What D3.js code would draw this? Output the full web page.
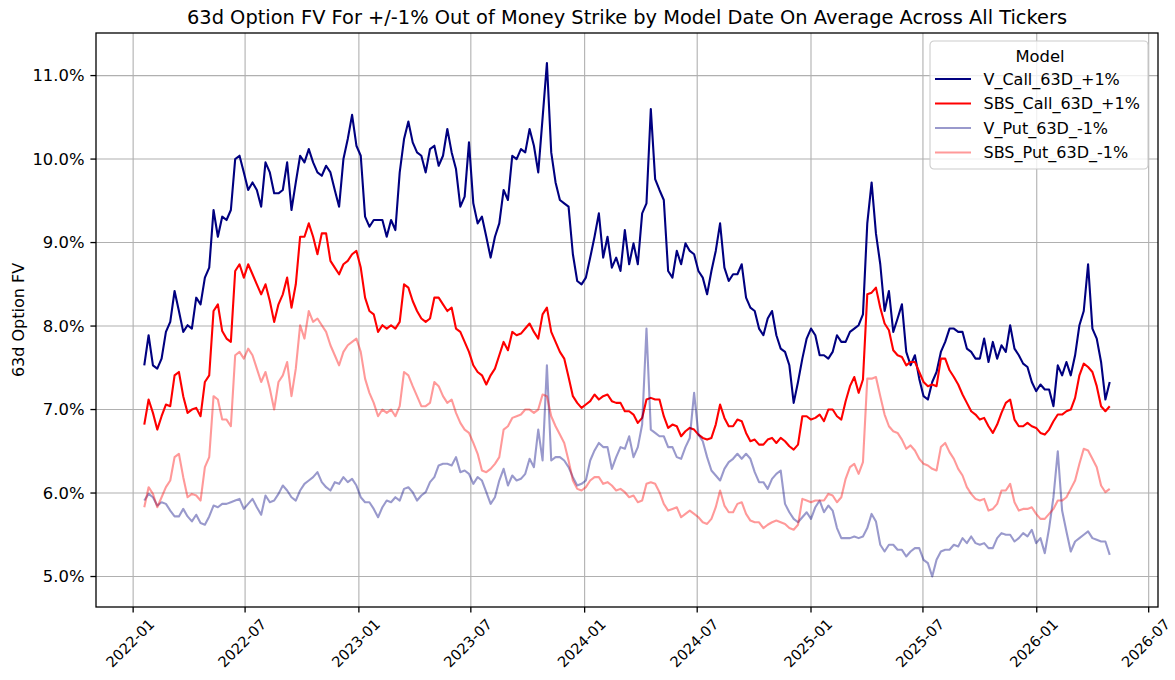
<!DOCTYPE html>
<html>
<head>
<meta charset="utf-8">
<script src="https://cdn.jsdelivr.net/npm/d3@7"></script>
<style>
  body { margin: 0; background: #fff; }
  text { font-family: "DejaVu Sans", sans-serif; }
</style>
</head>
<body>
<div id="chart"></div>
<script>
// weekly model dates, first one 2022-01-19
const startDate = new Date(2022, 0, 19);
const stepDays = 7;

const vCall = [
  7.53,7.89,7.53,7.49,7.61,7.93,8.05,8.42,8.18,7.93,8.01,7.97,8.34,8.26,8.58,8.70,9.39,9.07,9.31,9.27,9.39,10.0,10.04,9.84,9.63,9.72,9.63,9.43,9.96,9.84,9.59,9.59,9.63,9.96,9.39,9.72,10.04,9.96,10.12,
  9.96,9.84,9.80,9.92,9.84,9.63,9.43,10.0,10.24,10.53,10.16,10.04,9.31,9.19,9.27,9.27,9.27,9.07,9.27,9.15,9.84,10.24,10.45,10.20,10.08,10.04,9.84,10.12,10.16,9.92,10.04,10.36,10.08,9.88,9.43,9.55,10.20,9.47,9.23,
  9.31,9.07,8.82,9.07,9.23,9.63,9.51,10.04,10.0,10.12,10.08,10.36,10.16,9.84,10.49,11.15,10.08,9.72,9.51,9.47,9.43,8.86,8.54,8.50,8.58,8.82,9.07,9.35,8.82,9.07,8.70,8.82,8.66,9.15,8.74,8.99,8.74,9.35,9.47,
  10.6,9.76,9.63,9.51,8.66,8.58,8.90,8.74,8.99,8.90,8.86,8.66,8.58,8.38,8.66,8.90,9.23,8.70,8.54,8.62,8.62,8.74,8.34,8.22,8.18,7.97,7.89,8.09,8.18,7.89,7.73,7.69,7.53,7.08,7.33,7.61,7.85,7.97,7.89,
  7.65,7.65,7.61,7.69,7.89,7.81,7.81,7.93,7.97,8.01,8.14,9.23,9.72,9.11,8.74,8.18,8.42,7.93,8.09,8.26,7.69,7.53,7.65,7.37,7.16,7.12,7.33,7.45,7.69,7.81,7.97,7.97,7.93,7.93,7.73,7.69,7.61,7.61,7.85,
  7.57,7.81,7.61,7.77,7.69,8.01,7.73,7.65,7.55,7.51,7.33,7.22,7.30,7.24,7.24,7.04,7.53,7.41,7.57,7.41,7.65,8.01,8.18,8.74,7.97,7.85,7.57,7.12,7.33
];

const sbsCall = [
  6.82,7.12,6.96,6.76,6.92,7.06,7.04,7.41,7.45,7.16,6.96,7.00,7.02,6.92,7.33,7.41,8.18,8.26,7.94,7.85,7.81,8.66,8.74,8.58,8.74,8.62,8.50,8.38,8.50,8.30,8.05,8.26,8.38,8.58,8.22,8.50,9.07,9.07,9.23,
  9.07,8.86,9.11,9.11,8.78,8.70,8.62,8.74,8.78,8.86,8.90,8.70,8.34,8.18,8.14,7.93,8.01,7.97,8.01,7.97,8.05,8.50,8.46,8.30,8.18,8.09,8.05,8.09,8.34,8.34,8.26,8.18,8.22,7.97,7.93,7.81,7.69,7.53,7.45,
  7.41,7.30,7.41,7.49,7.65,7.81,7.71,7.93,7.89,7.91,7.97,8.03,7.93,7.85,8.14,8.22,7.93,7.81,7.69,7.61,7.39,7.16,7.08,7.02,7.06,7.10,7.18,7.12,7.16,7.18,7.10,7.08,7.08,6.98,6.98,6.94,6.84,6.90,7.12,
  7.14,7.12,7.12,6.92,6.78,6.82,6.80,6.68,6.74,6.78,6.76,6.70,6.66,6.64,6.66,6.82,7.06,6.90,6.80,6.80,6.88,6.86,6.72,6.62,6.64,6.58,6.58,6.64,6.66,6.60,6.66,6.62,6.56,6.52,6.58,6.92,6.92,6.88,6.90,
  6.94,6.86,7.00,7.00,6.92,6.88,7.10,7.28,7.39,7.20,7.36,8.38,8.40,8.46,8.22,8.03,7.95,7.71,7.65,7.63,7.53,7.57,7.57,7.45,7.33,7.28,7.30,7.28,7.61,7.61,7.47,7.39,7.30,7.18,7.08,6.98,6.94,6.88,6.90,
  6.80,6.72,6.82,6.96,7.08,7.12,6.88,6.80,6.80,6.84,6.80,6.78,6.72,6.70,6.76,6.86,6.94,6.94,6.98,7.00,7.14,7.41,7.55,7.51,7.45,7.28,7.04,6.98,7.04
];

const vPut = [
  5.91,5.99,5.95,5.85,5.89,5.87,5.79,5.72,5.72,5.81,5.72,5.66,5.74,5.64,5.62,5.72,5.85,5.83,5.87,5.87,5.89,5.91,5.93,5.81,5.87,5.93,5.83,5.74,5.97,5.89,5.91,5.99,6.09,6.03,5.95,5.91,6.03,6.11,6.15,
  6.19,6.25,6.13,6.07,6.03,6.13,6.11,6.19,6.13,6.17,6.09,5.95,5.89,5.89,5.81,5.71,5.83,5.91,5.89,5.95,5.91,6.05,6.07,6.01,5.91,5.97,6.01,6.13,6.19,6.33,6.35,6.35,6.33,6.43,6.25,6.27,6.23,6.11,6.19,
  6.15,6.01,5.87,5.95,6.15,6.29,6.09,6.21,6.15,6.17,6.23,6.41,6.31,6.76,6.39,7.53,6.39,6.43,6.43,6.39,6.31,6.19,6.09,6.11,6.15,6.39,6.51,6.60,6.55,6.55,6.29,6.43,6.55,6.53,6.68,6.43,6.55,6.82,7.97,
  6.76,6.72,6.68,6.68,6.55,6.55,6.43,6.41,6.55,6.66,7.20,6.70,6.62,6.43,6.27,6.21,6.15,6.29,6.37,6.41,6.47,6.41,6.47,6.41,6.25,6.13,6.13,6.05,6.17,6.23,6.27,5.87,5.77,5.69,5.65,5.71,5.77,5.69,5.83,
  5.91,5.77,5.85,5.79,5.58,5.46,5.46,5.46,5.48,5.46,5.48,5.58,5.75,5.66,5.38,5.30,5.38,5.38,5.32,5.32,5.24,5.30,5.34,5.34,5.20,5.16,5.00,5.20,5.30,5.32,5.32,5.38,5.36,5.46,5.40,5.48,5.40,5.38,5.40,
  5.34,5.34,5.46,5.52,5.50,5.50,5.42,5.46,5.52,5.48,5.56,5.40,5.46,5.28,5.58,5.95,6.50,5.79,5.54,5.30,5.42,5.46,5.50,5.54,5.46,5.44,5.42,5.42,5.26
];

const sbsPut = [
  5.83,6.07,5.99,5.83,5.95,6.07,6.15,6.43,6.47,6.19,5.95,5.99,5.97,5.91,6.31,6.43,7.16,7.12,6.88,6.88,6.80,7.65,7.69,7.61,7.73,7.65,7.49,7.33,7.45,7.25,7.00,7.33,7.41,7.57,7.16,7.49,8.01,7.85,8.18,
  8.05,8.09,8.01,7.93,7.77,7.65,7.53,7.69,7.77,7.81,7.85,7.69,7.37,7.20,7.08,6.92,7.00,6.96,7.00,6.92,7.04,7.45,7.41,7.28,7.16,7.04,7.04,7.08,7.33,7.28,7.16,7.08,7.12,6.96,6.84,6.76,6.72,6.60,6.47,
  6.27,6.25,6.29,6.35,6.43,6.76,6.80,6.90,6.92,6.94,7.00,7.00,6.96,7.00,7.18,7.16,6.92,6.80,6.70,6.60,6.39,6.15,6.05,6.03,6.07,6.15,6.19,6.19,6.11,6.13,6.09,6.03,6.05,6.01,5.95,5.97,5.89,5.91,6.11,
  6.13,6.11,6.01,5.87,5.79,5.81,5.83,5.71,5.75,5.79,5.75,5.71,5.65,5.63,5.69,5.83,6.03,5.85,5.77,5.77,5.87,5.89,5.75,5.67,5.65,5.65,5.58,5.62,5.65,5.67,5.65,5.63,5.58,5.56,5.62,5.93,5.91,5.89,5.91,
  5.91,5.91,5.99,5.97,5.89,5.95,6.17,6.31,6.35,6.23,6.37,7.37,7.37,7.39,7.16,6.94,6.80,6.74,6.72,6.64,6.53,6.57,6.51,6.41,6.35,6.33,6.29,6.27,6.55,6.60,6.49,6.41,6.29,6.21,6.07,5.99,5.93,5.91,5.93,
  5.79,5.81,5.87,6.03,6.03,6.11,5.89,5.79,5.81,5.81,5.83,5.75,5.69,5.69,5.75,5.81,5.91,5.91,5.95,6.05,6.15,6.35,6.53,6.51,6.41,6.31,6.09,6.01,6.05
];

const seriesNames = ["V_Call_63D_+1%", "SBS_Call_63D_+1%", "V_Put_63D_-1%", "SBS_Put_63D_-1%"];
const yTicks = [5, 6, 7, 8, 9, 10, 11];

const series = [
  { name: seriesNames[0], values: vCall, color: "#000080", alpha: 1 },
  { name: seriesNames[1], values: sbsCall, color: "#ff0000", alpha: 1 },
  { name: seriesNames[2], values: vPut, color: "#000080", alpha: 0.4 },
  { name: seriesNames[3], values: sbsPut, color: "#ff0000", alpha: 0.4 },
];

const width = 1175, height = 680;
const margin = { top: 33, right: 17, bottom: 73, left: 96 };

const n = vCall.length;
const dates = d3.range(n).map(i => d3.timeDay.offset(startDate, i * stepDays));

// matplotlib style 5% padding on both axes
const xExt = d3.extent(dates);
const xPad = (xExt[1] - xExt[0]) * 0.05;
const x = d3.scaleTime()
  .domain([new Date(+xExt[0] - xPad), new Date(+xExt[1] + xPad)])
  .range([margin.left, width - margin.right]);

const y = d3.scaleLinear()
  .domain([4.635, 11.51])
  .range([height - margin.bottom, margin.top]);

const xTicks = d3.timeMonth.every(6).range(new Date(2022, 0, 1), new Date(2026, 7, 1));

const svg = d3.select("#chart").append("svg")
  .attr("width", width)
  .attr("height", height);

const plotW = width - margin.left - margin.right;
const plotH = height - margin.top - margin.bottom;

// grid
const grid = svg.append("g").attr("stroke", "#b0b0b0").attr("stroke-width", 1.1);
grid.selectAll(".gx").data(xTicks).enter().append("line")
  .attr("x1", d => x(d)).attr("x2", d => x(d))
  .attr("y1", margin.top).attr("y2", height - margin.bottom);
grid.selectAll(".gy").data(yTicks).enter().append("line")
  .attr("x1", margin.left).attr("x2", width - margin.right)
  .attr("y1", d => y(d)).attr("y2", d => y(d));

// lines
const line = d3.line()
  .x((d, i) => x(dates[i]))
  .y(d => y(d));

svg.append("defs").append("clipPath").attr("id", "clip")
  .append("rect").attr("x", margin.left).attr("y", margin.top)
  .attr("width", plotW).attr("height", plotH);

svg.append("g").attr("clip-path", "url(#clip)")
  .selectAll("path").data(series).enter().append("path")
  .attr("d", d => line(d.values))
  .attr("fill", "none")
  .attr("stroke", d => d.color)
  .attr("stroke-opacity", d => d.alpha)
  .attr("stroke-width", 2.1)
  .attr("stroke-linejoin", "round");

// axes frame
svg.append("rect")
  .attr("x", margin.left).attr("y", margin.top)
  .attr("width", plotW).attr("height", plotH)
  .attr("fill", "none").attr("stroke", "#000").attr("stroke-width", 1.3);

// y axis
const yAxis = svg.append("g");
yAxis.selectAll("line").data(yTicks).enter().append("line")
  .attr("x1", margin.left - 5.6).attr("x2", margin.left)
  .attr("y1", d => y(d)).attr("y2", d => y(d))
  .attr("stroke", "#000").attr("stroke-width", 1.3);
yAxis.selectAll("text").data(yTicks).enter().append("text")
  .attr("x", margin.left - 11.5)
  .attr("y", d => y(d))
  .attr("dy", "0.36em")
  .attr("text-anchor", "end")
  .attr("font-size", "16.4px")
  .attr("fill", "#000")
  .text(d => d3.format(".1f")(d) + "%");

// x axis
const xAxis = svg.append("g");
xAxis.selectAll("line").data(xTicks).enter().append("line")
  .attr("x1", d => x(d)).attr("x2", d => x(d))
  .attr("y1", height - margin.bottom).attr("y2", height - margin.bottom + 5.6)
  .attr("stroke", "#000").attr("stroke-width", 1.3);
xAxis.selectAll("text").data(xTicks).enter().append("text")
  .attr("transform", d => `translate(${x(d) - 3},${height - margin.bottom + 36}) rotate(-45)`)
  .attr("text-anchor", "middle")
  .attr("dy", "0.36em")
  .attr("font-size", "14.6px")
  .attr("fill", "#000")
  .text(d => d3.timeFormat("%Y-%m")(d));

// axis label
svg.append("text")
  .attr("transform", `translate(24,${margin.top + plotH / 2}) rotate(-90)`)
  .attr("text-anchor", "middle")
  .attr("font-size", "16px")
  .text("63d Option FV");

// title
svg.append("text")
  .attr("x", margin.left + plotW / 2)
  .attr("y", 24)
  .attr("text-anchor", "middle")
  .attr("font-size", "19.4px")
  .text("63d Option FV For +/-1% Out of Money Strike by Model Date On Average Across All Tickers");

// legend
const legend = svg.append("g").attr("transform", "translate(930,41)");
legend.append("rect")
  .attr("width", 218).attr("height", 128).attr("rx", 4)
  .attr("fill", "#fff").attr("fill-opacity", 0.8)
  .attr("stroke", "#cccccc").attr("stroke-width", 1.1);
legend.append("text")
  .attr("x", 110).attr("y", 21)
  .attr("text-anchor", "middle")
  .attr("font-size", "16.4px")
  .text("Model");
const items = legend.selectAll(".item").data(series).enter().append("g")
  .attr("transform", (d, i) => `translate(0,${38 + i * 24.5})`);
items.append("line")
  .attr("x1", 5).attr("x2", 41)
  .attr("stroke", d => d.color)
  .attr("stroke-opacity", d => d.alpha)
  .attr("stroke-width", 2.1);
items.append("text")
  .attr("x", 53.5).attr("y", 5.8)
  .attr("font-size", "16px")
  .text(d => d.name);
</script>
</body>
</html>
